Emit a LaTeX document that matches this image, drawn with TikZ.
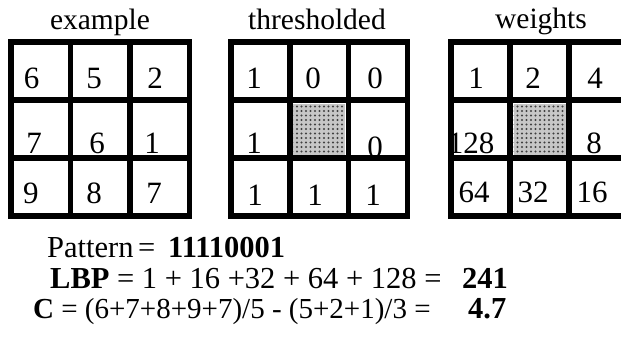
\documentclass[tikz,border=0pt]{standalone}
\usepackage{fontspec}
\setmainfont{Liberation Serif}
\usetikzlibrary{patterns.meta}

\begin{document}
\begin{tikzpicture}[x=1pt, y=-1pt,
        gridLine/.style={line width=5.5pt, line cap=rect},
        dotCell/.style={fill=black!22, postaction={pattern={Dots[distance=4.5pt, radius=1.1pt]}, pattern color=black!75}},
        gridTitle/.style={font=\fontsize{29.5}{29.5}\selectfont, anchor=base, inner sep=0pt},
        cellNum/.style={font=\fontsize{31}{31}\selectfont, anchor=base, inner sep=0pt},
        formula/.style={font=\fontsize{30.5}{30.5}\selectfont, anchor=base west, inner sep=0pt}
    ]
        \useasboundingbox (0,0) rectangle (621,354);

        % Grids: left edge / cell width / dotted centre?
        \foreach \gx/\gw/\dotted in {11/59.5/0, 231/58.8/1, 451/59/1} {
            \ifnum\dotted=1
                \fill[dotCell] (\gx+\gw+3.5, 103.5) rectangle (\gx+2*\gw-3.5, 154.5);
            \fi
            \foreach \i in {0,...,3} {
                \draw[gridLine] (\gx+\i*\gw, 42) -- (\gx+\i*\gw, 216);
                \draw[gridLine] (\gx, 42+\i*58) -- (\gx+3*\gw, 42+\i*58);
            }
        }

        % Titles
        \node[gridTitle] (exTitle) at (100, 29) {example};
        \node[gridTitle] (thTitle) at (317, 29) {thresholded};
        \node[gridTitle] (wtTitle) at (541, 28) {weights};

        % Example values
        \foreach \cx/\cy/\txt/\nm in {31.5/88/6/exA, 94/88/5/exB, 155/88/2/exC,
                                      34/153/7/exD, 97/153/6/exE, 152/153/1/exF,
                                      31/203/9/exG, 94/203/8/exH, 154/203/7/exI}
            \node[cellNum] (\nm) at (\cx, \cy) {\txt};

        % Thresholded values
        \foreach \cx/\cy/\txt/\nm in {254/88/1/thA, 313/88/0/thB, 375/88/0/thC,
                                      254/153/1/thD, 375/157/0/thF,
                                      255/205/1/thG, 315/205/1/thH, 373/205/1/thI}
            \node[cellNum] (\nm) at (\cx, \cy) {\txt};

        % Weights
        \foreach \cx/\cy/\txt/\nm in {476/88/1/wtA, 533/88/2/wtB, 595/88/4/wtC,
                                      471/153/128/wtD, 594/153/8/wtF,
                                      474/202/64/wtG, 533/202/32/wtH, 592/202/16/wtI}
            \node[cellNum] (\nm) at (\cx, \cy) {\txt};

        % Formulas
        \node[formula] (patText) at (47, 257) {Pattern\hspace{4.5pt}=};
        \node[formula] (patVal) at (168, 257) {\textbf{11110001}};
        \node[formula] (lbpText) at (50, 288) {\textbf{LBP} = 1 + 16 +32 + 64 + 128 =};
        \node[formula] (lbpVal) at (462, 288) {\textbf{241}};
        \node[formula, font=\fontsize{29}{29}\selectfont] (cText) at (33, 318) {\textbf{C} = (6+7+8+9+7)/5 - (5+2+1)/3 =};
        \node[formula] (cVal) at (468, 318) {\textbf{4.7}};
    \end{tikzpicture}
\end{document}
